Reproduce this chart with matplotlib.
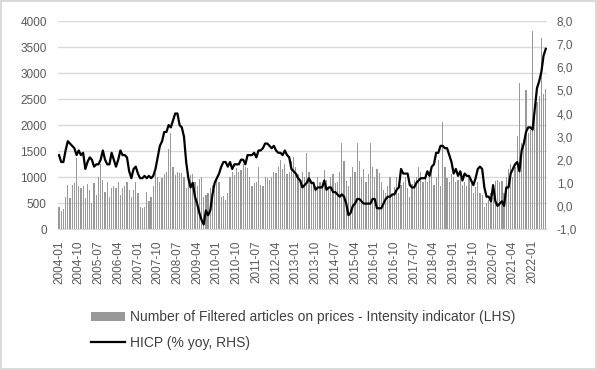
import matplotlib
matplotlib.use("Agg")
import matplotlib.pyplot as plt
import numpy as np

plt.rcParams['font.family'] = ['Liberation Sans', 'DejaVu Sans']

# monthly, 2004-01 .. 2022-07
months = [f"{y}-{m:02d}" for y in range(2004, 2023) for m in range(1, 13)][:223]

# number of filtered articles on prices (LHS), one row per year
articles = (
    [430, 340, 380, 620, 850, 590, 850, 880, 1370, 820, 780, 820] +
    [590, 860, 750, 500, 880, 650, 1000, 1250, 940, 720, 910, 620] +
    [780, 820, 780, 910, 650, 780, 820, 910, 750, 620, 750, 910] +
    [690, 430, 400, 430, 720, 530, 620, 820, 1070, 1000, 910, 980] +
    [1050, 1100, 1530, 1840, 1200, 1040, 1100, 1070, 1080, 1000, 780, 1070] +
    [1040, 1050, 910, 820, 960, 1000, 620, 650, 690, 780, 850, 750] +
    [1000, 910, 620, 640, 560, 690, 1000, 1100, 1040, 1170, 1100, 1130] +
    [1260, 1200, 1170, 1000, 830, 880, 900, 1200, 850, 820, 1000, 980] +
    [950, 1000, 1100, 1070, 1200, 1330, 1150, 1260, 1050, 1100, 1300, 1390] +
    [1200, 1050, 900, 1100, 1000, 1455, 1100, 950, 820, 760, 1000, 900] +
    [850, 1130, 950, 800, 1000, 1050, 880, 900, 1100, 1660, 1300, 930] +
    [820, 1000, 1200, 1100, 1650, 1300, 1000, 1150, 900, 1050, 1650, 1200] +
    [1000, 1150, 1070, 900, 750, 700, 820, 1000, 650, 800, 1000, 700] +
    [850, 900, 1000, 780, 620, 870, 950, 1000, 1200, 1100, 900, 1050] +
    [900, 1000, 1135, 850, 1000, 1330, 820, 2050, 1200, 980, 900, 1050] +
    [1000, 900, 950, 1000, 850, 900, 820, 1000, 950, 700, 800, 900] +
    [700, 650, 430, 500, 560, 690, 600, 920, 940, 900, 930, 700] +
    [1000, 1150, 1260, 1000, 1200, 1780, 2810, 1650, 1700, 2670, 1850, 1900] +
    [3800, 2300, 2450, 2550, 3680, 2600, 2700]
)

# HICP, % yoy (RHS)
hicp = (
    [2.2, 1.9, 1.9, 2.4, 2.8, 2.7, 2.6, 2.5, 2.2, 2.4, 2.2, 2.3] +
    [1.6, 1.9, 2.1, 2.0, 1.7, 1.8, 1.8, 2.0, 2.4, 2.0, 1.8, 1.8] +
    [2.3, 2.0, 1.7, 2.0, 2.4, 2.2, 2.2, 2.1, 1.5, 1.2, 1.6, 1.7] +
    [1.4, 1.2, 1.2, 1.3, 1.2, 1.3, 1.2, 1.3, 1.6, 2.1, 2.6, 2.8] +
    [3.2, 3.2, 3.5, 3.4, 3.7, 4.0, 4.0, 3.5, 3.4, 3.0, 1.9, 1.2] +
    [0.8, 1.0, 0.4, 0.1, -0.3, -0.6, -0.8, -0.2, -0.4, -0.2, 0.5, 1.0] +
    [1.2, 1.4, 1.7, 1.9, 1.9, 1.7, 1.9, 1.6, 1.8, 1.8, 1.8, 2.0] +
    [2.0, 1.8, 2.2, 2.2, 2.2, 2.3, 2.1, 2.4, 2.4, 2.5, 2.7, 2.7] +
    [2.6, 2.5, 2.6, 2.4, 2.3, 2.3, 2.2, 2.4, 2.2, 2.1, 1.6, 1.5] +
    [1.4, 1.2, 1.1, 0.8, 0.9, 1.0, 1.2, 1.0, 1.0, 0.7, 0.8, 0.8] +
    [0.8, 1.1, 0.7, 0.8, 0.8, 0.6, 0.6, 0.5, 0.4, 0.5, 0.4, 0.1] +
    [-0.4, -0.3, 0.0, 0.1, 0.3, 0.3, 0.2, 0.1, 0.1, 0.1, 0.1, 0.3] +
    [0.3, -0.1, -0.1, -0.1, 0.1, 0.3, 0.4, 0.4, 0.5, 0.5, 0.7, 0.8] +
    [1.6, 1.4, 1.4, 1.4, 0.9, 0.8, 0.8, 1.0, 1.1, 1.2, 1.2, 1.2] +
    [1.5, 1.3, 1.7, 1.8, 2.3, 2.3, 2.6, 2.6, 2.5, 2.5, 2.2, 1.9] +
    [1.4, 1.6, 1.3, 1.5, 1.1, 1.4, 1.3, 1.3, 1.1, 0.9, 1.2, 1.6] +
    [1.7, 1.6, 0.8, 0.4, 0.4, 0.2, 0.9, 0.2, 0.0, 0.1, 0.2, 0.0] +
    [0.8, 0.8, 1.4, 1.6, 1.8, 1.9, 1.5, 2.4, 2.7, 3.2, 3.4, 3.4] +
    [3.3, 4.2, 5.1, 5.4, 5.8, 6.5, 6.8]
)

x = np.arange(len(months))
tick_idx = x[::9]
tick_labels = [months[i] for i in tick_idx]

fig = plt.figure(figsize=(5.97, 3.70), dpi=100)
fig.patch.set_edgecolor('#d9d9d9')
fig.patch.set_linewidth(1.5)
ax = fig.add_axes([0.097, 0.381, 0.819, 0.562])

ax.bar(x, articles, width=0.55, color='#999999', label='Number of Filtered articles on prices - Intensity indicator (LHS)')
ax.set_ylim(0, 4000)
ax.set_yticks(np.arange(0, 4001, 500))
ax.set_xlim(-0.5, len(months) - 0.5)
ax.set_xticks(tick_idx)
ax.set_xticklabels(tick_labels, rotation=90)
ax.grid(axis='y', color='#d9d9d9', linewidth=1)
ax.set_axisbelow(True)
for s in ['top', 'left', 'right']:
    ax.spines[s].set_visible(False)
ax.spines['bottom'].set_color('#d9d9d9')
ax.tick_params(axis='y', length=0, pad=8, labelsize=8.5, colors='#595959')
ax.tick_params(axis='x', length=0, pad=8, labelsize=8.5, colors='#595959')

ax2 = ax.twinx()
ax2.plot(x, hicp, color='black', linewidth=1.6, label='HICP (% yoy, RHS)')
ax2.set_ylim(-1, 8)
ax2.set_yticks(np.arange(-1, 8.1, 1))
ax2.set_yticklabels([f"{v:.1f}".replace('.', ',') for v in np.arange(-1, 8.1, 1)])
for s in ax2.spines.values():
    s.set_visible(False)
ax2.tick_params(axis='y', length=0, pad=7, labelsize=8.5, colors='#595959')

h1, l1 = ax.get_legend_handles_labels()
h2, l2 = ax2.get_legend_handles_labels()
fig.legend(h1 + h2, l1 + l2, loc='center', bbox_to_anchor=(0.508, 0.108), ncol=1,
           frameon=False, fontsize=10, handlelength=2.4, handletextpad=0.35,
           labelspacing=0.8, labelcolor='#404040')

fig.savefig('out.png', dpi=100)
